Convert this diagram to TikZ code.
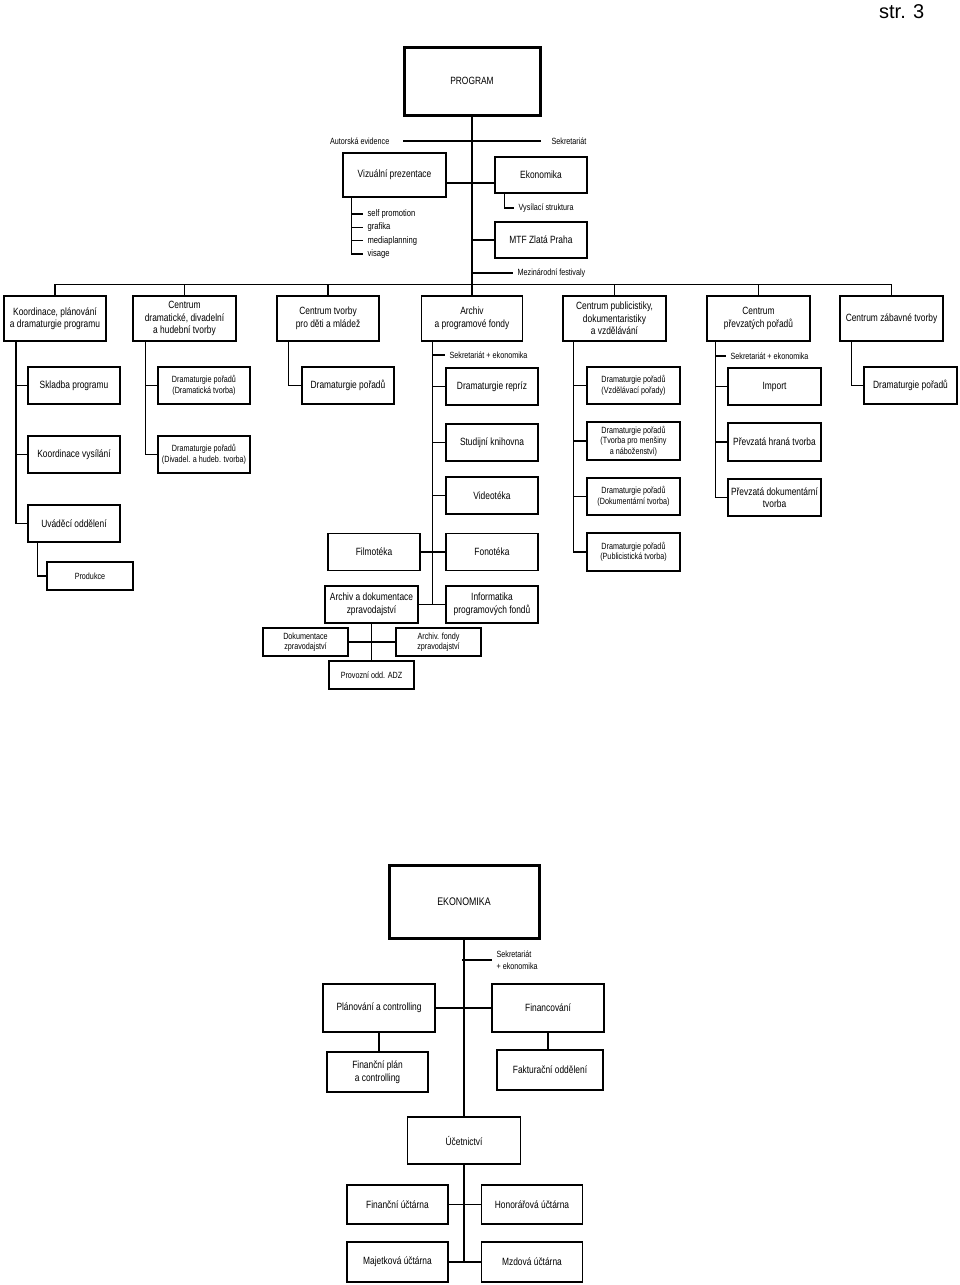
\documentclass[tikz,border=0pt]{standalone}
\usepackage{fontspec}
\setmainfont{Liberation Sans}[FakeStretch=0.8]
\newfontfamily\pagefont{Liberation Sans}
\begin{document}
\begin{tikzpicture}[x=1pt, y=-1pt, line width=1.3pt,
    every node/.style={inner sep=1pt, align=center},
    box/.style={draw, line width=1.3pt, font=\fontsize{10.5}{12.5}\selectfont},
    smallbox/.style={draw, line width=1.3pt, font=\fontsize{9}{10.5}\selectfont},
    headbox/.style={draw, line width=3pt, font=\fontsize{10.5}{12.5}\selectfont},
    note/.style={anchor=west, inner xsep=4pt, font=\fontsize{9}{12.5}\selectfont, align=left},
    wh/.style 2 args={minimum width=#1, minimum height=#2}]
    \useasboundingbox (0,0) rectangle (960,1285);

    \node[font=\pagefont\fontsize{20}{24}\selectfont, anchor=east] (page) at (926,12) {str. 3};

    % PROGRAM
    \node[headbox, wh={136}{68}] (prog) at (472,81) {PROGRAM};
    \node[note, anchor=east, inner xsep=0pt] (aut) at (390,141) {Autorská evidence};
    \node[note, inner xsep=0pt] (sekr) at (551,141) {Sekretariát};
    \draw ([xshift=13pt]aut.east) -- ([xshift=-10pt]sekr.west);

    \node[box, wh={103}{44}] (viz) at (394.5,175) {Vizuální prezentace};
    \node[box, wh={92}{36}] (ekon) at (541,175) {Ekonomika};
    \node[box, wh={92}{36}] (mtf) at (541,240) {MTF Zlatá Praha};
    \node[note] (vys) at (514,208) {Vysílací struktura};
    \node[note] (fest) at (513,273) {Mezinárodní festivaly};

    \draw ([yshift=-8pt]viz.east) -- ([yshift=-8pt]ekon.west);
    \draw ([xshift=10pt]ekon.south west) |- (vys.west);
    \draw (prog.south |- mtf.west) -- (mtf.west);
    \draw (prog.south |- fest.west) -- (fest.west);

    \foreach \t [count=\i] in {self promotion, grafika, mediaplanning, visage}
      \node[note, font=\fontsize{9.5}{12}\selectfont] (v\i) at (363,{200.5+13.4*\i}) {\t};
    \coordinate (vl) at ([xshift=9pt]viz.south west);
    \draw (vl) |- (v4.west);
    \foreach \i in {1,2,3} \draw (vl |- v\i.west) -- (v\i.west);

    % centra
    \node[box, wh={102}{45}] (koord) at (55,318.5) {Koordinace, plánování\\a dramaturgie programu};
    \node[box, wh={103}{45}] (dram) at (184.5,318.5) {Centrum\\dramatické, divadelní\\a hudební tvorby};
    \node[box, wh={102}{45}] (deti) at (328,318.5) {Centrum tvorby\\pro děti a mládež};
    \node[box, wh={101}{45}] (archiv) at (472,318.5) {Archiv\\a programové fondy};
    \node[box, wh={103}{45}] (publ) at (614.5,318.5) {Centrum publicistiky,\\dokumentaristiky\\a vzdělávání};
    \node[box, wh={103}{45}] (prevz) at (758.5,318.5) {Centrum\\převzatých pořadů};
    \node[box, wh={103}{45}] (zab) at (891.5,318.5) {Centrum zábavné tvorby};

    \draw (prog.south) -- (archiv.north);
    \draw (koord.north) -- ++(0,-11) -| (zab.north);
    \foreach \n in {dram,deti,publ,prevz} \draw (\n.north) -- ++(0,-11);

    % Koordinace
    \node[box, wh={92}{37}] (skl) at (74,385.5) {Skladba programu};
    \node[box, wh={92}{37}] (kvys) at (74,454.5) {Koordinace vysílání};
    \node[box, wh={92}{37}] (uvad) at (74,523.5) {Uváděcí oddělení};
    \node[smallbox, wh={86}{28}] (prod) at (90,576) {Produkce};
    \coordinate (ks) at ([xshift=-39pt]koord.south);
    \draw (ks) |- (uvad.west);
    \foreach \n in {skl,kvys} \draw (ks |- \n.west) -- (\n.west);
    \coordinate (us) at ([xshift=10pt]uvad.south west);
    \draw (us) |- (prod.west);

    % dramaticka tvorba
    \node[smallbox, wh={92}{37}] (dp1) at (204,385.5) {Dramaturgie pořadů\\(Dramatická tvorba)};
    \node[smallbox, wh={92}{37}] (dp2) at (204,454.5) {Dramaturgie pořadů\\(Divadel. a hudeb. tvorba)};
    \coordinate (ds) at ([xshift=13pt]dram.south west);
    \draw (ds) |- (dp2.west);
    \draw (ds |- dp1.west) -- (dp1.west);

    % deti a mladez
    \node[box, wh={92}{37}] (dp3) at (348,385.5) {Dramaturgie pořadů};
    \coordinate (ts) at ([xshift=12pt]deti.south west);
    \draw (ts) |- (dp3.west);

    % archiv
    \node[note] (se1) at (445,355) {Sekretariát + ekonomika};
    \node[box, wh={92}{37}] (repr) at (492,386.5) {Dramaturgie repríz};
    \node[box, wh={92}{37}] (stud) at (492,442.5) {Studijní knihovna};
    \node[box, wh={92}{37}] (video) at (492,495.5) {Videotéka};
    \node[box, wh={92}{37}] (fono) at (492,552) {Fonotéka};
    \node[box, wh={92}{37}] (info) at (492,604.5) {Informatika\\programových fondů};
    \node[box, wh={92}{37}] (film) at (374,552) {Filmotéka};
    \node[box, wh={93}{37}] (adz) at (371.5,604.5) {Archiv a dokumentace\\zpravodajství};
    \node[smallbox, wh={85}{28}] (dokz) at (305.5,642) {Dokumentace\\zpravodajství};
    \node[smallbox, wh={85}{28}] (afz) at (438.5,642) {Archiv. fondy\\zpravodajství};
    \node[smallbox, wh={85}{28}] (prov) at (371.5,675) {Provozní odd. ADZ};
    \coordinate (as) at ([xshift=11.5pt]archiv.south west);
    \draw (as) |- (info.west);
    \foreach \n in {se1,repr,stud,video,fono} \draw (as |- \n.west) -- (\n.west);
    \draw (film.east) -- (as |- film.east);
    \draw (adz.east) -- (as |- adz.east);
    \draw (adz.south) -- (prov.north);
    \draw (dokz.east) -- (afz.west);

    % publicistika
    \node[smallbox, wh={93}{37}] (dv) at (633.5,385.5) {Dramaturgie pořadů\\(Vzdělávací pořady)};
    \node[smallbox, wh={93}{38}] (dm) at (633.5,441) {Dramaturgie pořadů\\(Tvorba pro menšiny\\a náboženství)};
    \node[smallbox, wh={93}{37}] (dd) at (633.5,496.5) {Dramaturgie pořadů\\(Dokumentární tvorba)};
    \node[smallbox, wh={93}{38}] (dpu) at (633.5,552) {Dramaturgie pořadů\\(Publicistická tvorba)};
    \coordinate (ps) at ([xshift=11pt]publ.south west);
    \draw (ps) |- (dpu.west);
    \foreach \n in {dv,dm,dd} \draw (ps |- \n.west) -- (\n.west);

    % prevzate porady
    \node[note] (se2) at (726,356) {Sekretariát + ekonomika};
    \node[box, wh={93}{37}] (imp) at (774.5,386.5) {Import};
    \node[box, wh={93}{38}] (hran) at (774.5,442) {Převzatá hraná tvorba};
    \node[box, wh={93}{37}] (dok) at (774.5,497.5) {Převzatá dokumentární\\tvorba};
    \coordinate (rs) at ([xshift=9pt]prevz.south west);
    \draw (rs) |- (dok.west);
    \foreach \n in {se2,imp,hran} \draw (rs |- \n.west) -- (\n.west);

    % zabavna tvorba
    \node[box, wh={93}{37}] (dp4) at (910.5,385.5) {Dramaturgie pořadů};
    \coordinate (zs) at ([xshift=12pt]zab.south west);
    \draw (zs) |- (dp4.west);

    % EKONOMIKA
    \node[headbox, wh={150}{73}, font=\fontsize{11}{13}\selectfont] (ek) at (464,901.5) {EKONOMIKA};
    \node[note] (sek3) at (492,960) {Sekretariát\\+ ekonomika};
    \node[box, wh={112}{48}] (plan) at (379,1008) {Plánování a controlling};
    \node[box, wh={112}{48}] (fin) at (548,1008) {Financování};
    \node[box, wh={101}{40}] (fplan) at (377.5,1072) {Finanční plán\\a controlling};
    \node[box, wh={106}{40}] (fakt) at (550,1070) {Fakturační oddělení};
    \node[box, wh={113}{47}] (ucet) at (464,1140.5) {Účetnictví};
    \node[box, wh={101}{39}] (fu) at (397.5,1204.5) {Finanční účtárna};
    \node[box, wh={101}{39}] (hu) at (532,1204.5) {Honorářová účtárna};
    \node[box, wh={101}{40}] (mu) at (397.5,1262) {Majetková účtárna};
    \node[box, wh={101}{40}] (mzu) at (532,1262) {Mzdová účtárna};

    \draw (ek.south) -- (ucet.north);
    \draw (ek.south |- sek3.west) ++(-2,0) -- (sek3.west);
    \draw (plan.east) -- (fin.west);
    \draw (plan.south) -- (plan.south |- fplan.north);
    \draw (fin.south) -- (fin.south |- fakt.north);
    \draw (ucet.south) -- (ucet.south |- mu.east);
    \draw (fu.east) -- (hu.west);
    \draw (mu.east) -- (mzu.west);
\end{tikzpicture}
\end{document}
